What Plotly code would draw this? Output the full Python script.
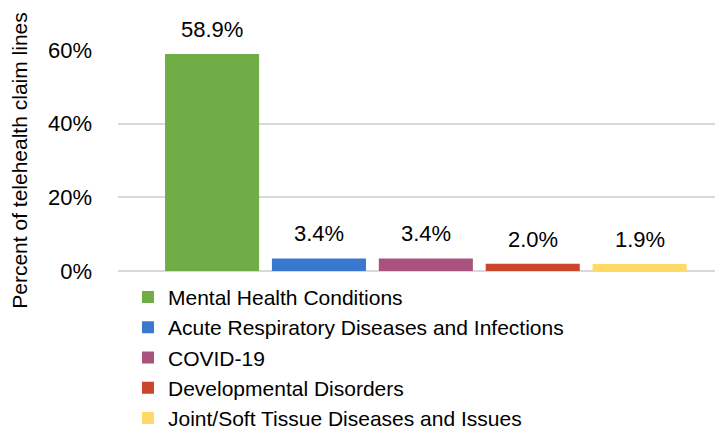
import plotly.graph_objects as go

categories = ["Mental Health Conditions",
              "Acute Respiratory Diseases and Infections",
              "COVID-19",
              "Developmental Disorders",
              "Joint/Soft Tissue Diseases and Issues"]
values = [58.9, 3.4, 3.4, 2.0, 1.9]
labels = ["58.9%", "3.4%", "3.4%", "2.0%", "1.9%"]
colors = ["#70AD47", "#3A78D0", "#A9527E", "#C9452B", "#FFD966"]
tick_vals = [0, 20, 40, 60]
tick_text = ["0%", "20%", "40%", "60%"]

FONT = "Liberation Sans, Arial, sans-serif"

fig = go.Figure()
for i, (c, v, l, col) in enumerate(zip(categories, values, labels, colors)):
    fig.add_trace(go.Bar(
        x=[i], y=[v], name=c, width=0.88,
        marker=dict(color=col, line=dict(width=0)),
        cliponaxis=False,
    ))
    fig.add_annotation(x=i, y=v, text=l, showarrow=False,
                       xref="x", yref="y", yanchor="bottom", yshift=10,
                       font=dict(size=22, color="#000000", family=FONT))

# page body has an 8px default margin, so the figure is 8px smaller
fig.update_layout(
    width=715, height=423,
    margin=dict(l=110, r=0, t=42, b=160, autoexpand=False),
    paper_bgcolor="white", plot_bgcolor="white",
    barmode="overlay",
    font=dict(family=FONT, color="#000000"),
    showlegend=True,
    legend=dict(
        x=0.0165, y=-0.026, xanchor="left", yanchor="top",
        orientation="v", font=dict(size=21, color="#000000", family=FONT),
        itemwidth=30, tracegroupgap=0, bgcolor="rgba(0,0,0,0)",
    ),
    xaxis=dict(range=[-0.88, 4.78], showticklabels=False, showgrid=False,
               zeroline=False, showline=False, ticks=""),
    yaxis=dict(range=[0, 60], tickvals=tick_vals, ticktext=tick_text,
               tickfont=dict(size=22, family=FONT, color="#000000"),
               showgrid=True, gridcolor="#D9D9D9", gridwidth=1.5,
               zeroline=True, zerolinecolor="#D9D9D9", zerolinewidth=1.5,
               showline=False, ticks="", ticklabelstandoff=25,
               title=dict(text="Percent of telehealth claim lines",
                          font=dict(size=21, family=FONT, color="#000000"),
                          standoff=14)),
)

fig.write_html("out.html")
